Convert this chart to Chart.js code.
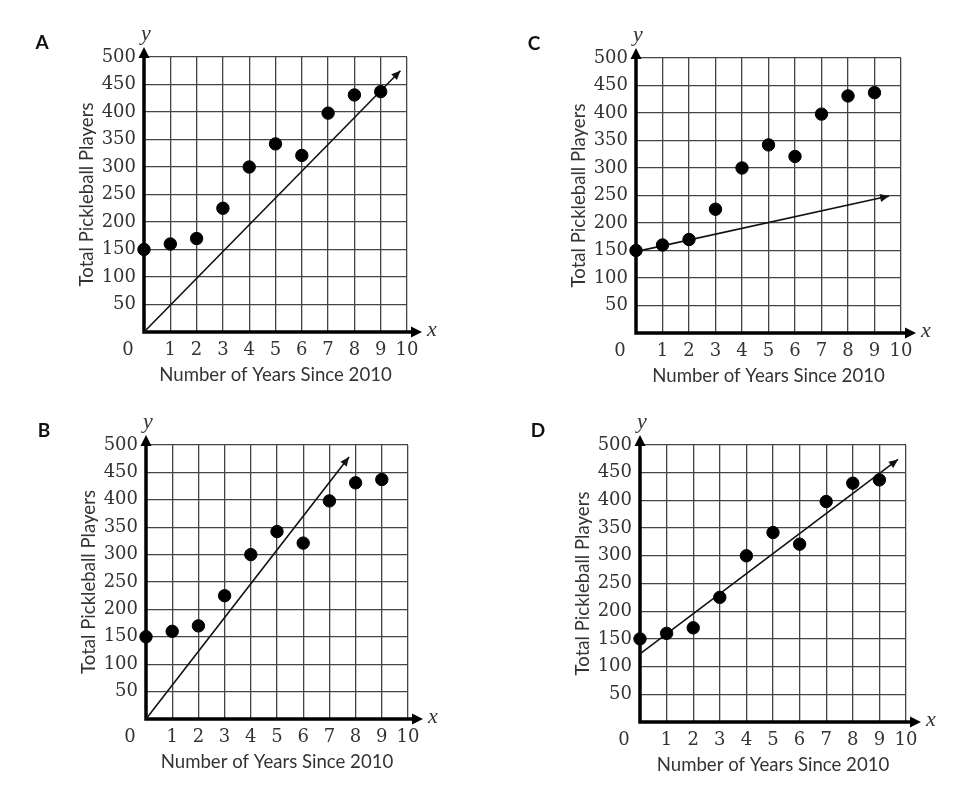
<!DOCTYPE html>
<html>
<head>
<meta charset="utf-8">
<script src="https://cdn.jsdelivr.net/npm/chart.js@4.4.1/dist/chart.umd.min.js"></script>
<style>
body { margin: 0; background: #fff; width: 979px; height: 797px; position: relative; overflow: hidden; }
.panel { position: absolute; }
</style>
</head>
<body>
<div class="panel" id="pA"><canvas id="cA"></canvas></div>
<div class="panel" id="pB"><canvas id="cB"></canvas></div>
<div class="panel" id="pC"><canvas id="cC"></canvas></div>
<div class="panel" id="pD"><canvas id="cD"></canvas></div>
<script>
// data
const years = [0, 1, 2, 3, 4, 5, 6, 7, 8, 9];
const players = [150, 160, 170, 225, 300, 342, 321, 398, 431, 437];
const xTicks = [0, 1, 2, 3, 4, 5, 6, 7, 8, 9, 10];
const yTicks = [0, 50, 100, 150, 200, 250, 300, 350, 400, 450, 500];

// the four candidate lines (start, arrow tip)
const lineA = [{x: 0, y: 0}, {x: 9.75, y: 475}];
const lineB = [{x: 0, y: 0}, {x: 7.75, y: 478}];
const lineC = [{x: 0, y: 148}, {x: 9.55, y: 249}];
const lineD = [{x: 0, y: 123}, {x: 9.7, y: 474}];

const xTitle = 'Number of Years Since 2010';
const yTitle = 'Total Pickleball Players';

// plot rectangles on the page
const panels = [
  {id: 'A', L: 144, T: 57, R: 407, B: 332, line: lineA},
  {id: 'B', L: 146, T: 445, R: 408, B: 719, line: lineB},
  {id: 'C', L: 636, T: 58, R: 901, B: 333, line: lineC},
  {id: 'D', L: 640, T: 445, R: 906, B: 722, line: lineD}
];

const PAD_L = 110, PAD_T = 40, PAD_R = 60, PAD_B = 70;
const INK = '#333';
const TICK_FONT = {family: '"DejaVu Serif", serif', size: 18};

// size the sans title font so the x title is as wide as in the picture
function fitSize(text, family, target) {
  const ctx = document.createElement('canvas').getContext('2d');
  ctx.font = '100px ' + family;
  return 100 * target / ctx.measureText(text).width;
}
const titleFamily = 'Lato, "Open Sans", sans-serif';
const titleSize = Math.round(fitSize(xTitle, titleFamily, 232) * 10) / 10;
const titleLH = titleSize * 1.2;

function arrowHead(ctx, x, y, angle, len, half) {
  ctx.save();
  ctx.translate(x, y);
  ctx.rotate(angle);
  ctx.beginPath();
  ctx.moveTo(0, 0);
  ctx.lineTo(-len, -half);
  ctx.lineTo(-len, half);
  ctx.closePath();
  ctx.fill();
  ctx.restore();
}

const decorations = {
  id: 'decorations',
  beforeDatasetsDraw(chart, args, opts) {
    const {ctx, chartArea: a} = chart;
    ctx.save();
    ctx.strokeStyle = '#000';
    ctx.fillStyle = '#000';
    ctx.lineWidth = 3.5;
    ctx.beginPath();
    ctx.moveTo(a.left, a.bottom);
    ctx.lineTo(a.left, a.top - 4);
    ctx.moveTo(a.left - 1.75, a.bottom);
    ctx.lineTo(a.right + 6, a.bottom);
    ctx.stroke();
    arrowHead(ctx, a.left, a.top - 10, -Math.PI / 2, 11, 5.5);
    arrowHead(ctx, a.right + 15, a.bottom, 0, 11, 5.5);
    ctx.restore();
  },
  afterDraw(chart, args, opts) {
    const {ctx, chartArea: a} = chart;
    ctx.save();
    // arrow tip of the candidate line
    const meta = chart.getDatasetMeta(1);
    const p1 = meta.data[0], p2 = meta.data[meta.data.length - 1];
    ctx.fillStyle = '#111';
    arrowHead(ctx, p2.x, p2.y, Math.atan2(p2.y - p1.y, p2.x - p1.x), 9, 4);

    ctx.fillStyle = INK;
    ctx.textAlign = 'center';
    ctx.textBaseline = 'middle';
    ctx.font = TICK_FONT.size + 'px ' + TICK_FONT.family;
    ctx.fillText('0', a.left - 16, a.bottom + 18);

    ctx.font = 'italic 22px "Liberation Serif", serif';
    ctx.fillText('y', a.left + 2, a.top - 23);
    ctx.fillText('x', a.right + 25, a.bottom - 2);

    ctx.fillStyle = '#111';
    ctx.font = 'bold 19px Lato, "Open Sans", sans-serif';
    ctx.fillText(opts.letter, a.left - 102, a.top - 14);
    ctx.restore();
  }
};

panels.forEach(p => {
  const wrap = document.getElementById('p' + p.id);
  wrap.style.left = (p.L - PAD_L) + 'px';
  wrap.style.top = (p.T - PAD_T) + 'px';
  wrap.style.width = (p.R - p.L + PAD_L + PAD_R) + 'px';
  wrap.style.height = (p.B - p.T + PAD_T + PAD_B) + 'px';

  new Chart(document.getElementById('c' + p.id), {
    type: 'scatter',
    data: {
      datasets: [{
        data: years.map((x, i) => ({x: x, y: players[i]})),
        backgroundColor: '#000',
        borderColor: '#000',
        pointRadius: 6.2,
        pointHoverRadius: 6.2,
        clip: false
      }, {
        data: p.line,
        showLine: true,
        borderColor: '#111',
        borderWidth: 1.6,
        pointRadius: 0,
        pointHoverRadius: 0,
        clip: false
      }]
    },
    options: {
      responsive: true,
      maintainAspectRatio: false,
      animation: false,
      events: [],
      layout: {padding: {left: 0, top: PAD_T, right: PAD_R, bottom: 0}},
      plugins: {
        legend: {display: false},
        tooltip: {enabled: false},
        decorations: {letter: p.id}
      },
      scales: {
        x: {
          type: 'linear',
          min: 0,
          max: 10,
          afterBuildTicks: s => { s.ticks = xTicks.map(v => ({value: v})); },
          afterFit: s => { s.height = PAD_B; },
          grid: {color: '#444', lineWidth: 1.3, drawTicks: false},
          border: {display: false},
          ticks: {
            color: INK,
            font: TICK_FONT,
            padding: 8,
            maxRotation: 0,
            autoSkip: false,
            callback: v => v === 0 ? '' : String(v)
          },
          title: {
            display: true,
            text: xTitle,
            color: INK,
            font: {family: titleFamily, size: titleSize},
            padding: {top: 0, bottom: PAD_B - 43 - titleLH / 2}
          }
        },
        y: {
          type: 'linear',
          min: 0,
          max: 500,
          afterBuildTicks: s => { s.ticks = yTicks.map(v => ({value: v})); },
          afterFit: s => { s.width = PAD_L; },
          grid: {color: '#444', lineWidth: 1.3, drawTicks: false},
          border: {display: false},
          ticks: {
            color: INK,
            font: TICK_FONT,
            padding: 8,
            autoSkip: false,
            callback: v => v === 0 ? '' : String(v)
          },
          title: {
            display: true,
            text: yTitle,
            color: INK,
            font: {family: titleFamily, size: titleSize},
            padding: {top: PAD_L - 57 - titleLH / 2, bottom: 0}
          }
        }
      }
    },
    plugins: [decorations]
  });
});
</script>
</body>
</html>
